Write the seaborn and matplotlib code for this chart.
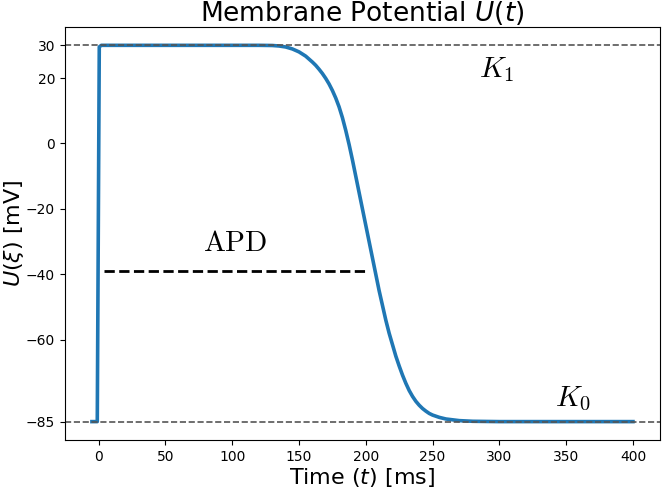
import matplotlib
matplotlib.use("Agg")
import matplotlib.pyplot as plt
import seaborn as sns
import pandas as pd

# Data
time_ms = [-5, -1, 0.5, 2, 20, 60, 100, 120, 130, 135, 140, 145, 150, 155, 160,
           162.5, 165, 167.5, 170, 172.5, 175, 177.5, 180, 182.5, 185, 187.5,
           190, 195, 200, 205, 210, 215, 217.5, 220, 222.5, 225, 227.5, 230,
           232.5, 235, 237.5, 240, 242.5, 245, 247.5, 250, 255, 260, 270, 280,
           300, 350, 400]
potential_mv = [-85, -85, 29.5, 30, 30, 30, 30, 30, 29.95, 29.8, 29.5, 28.9,
                28.0, 26.7, 24.9, 23.9, 22.7, 21.4, 19.9, 18.2, 16.2, 13.9, 11.2,
                7.9, 4.0, -0.3, -5.0, -15.0, -25.0, -35.0, -45.0, -54.0, -58.0,
                -61.5, -65.0, -68.0, -70.8, -73.3, -75.5, -77.3, -78.8, -80.0,
                -81.0, -81.8, -82.5, -83.0, -83.7, -84.2, -84.7, -84.9, -85,
                -85, -85]
K1 = 30
K0 = -85
apd_level = -39
apd_start, apd_end = 4, 202
yticks = [30, 20, 0, -20, -40, -60, -85]
xticks = [0, 50, 100, 150, 200, 250, 300, 350, 400]

df = pd.DataFrame({"t": time_ms, "U": potential_mv})

fig = plt.figure(figsize=(6.62, 4.91), dpi=100)
ax = fig.add_axes([0.098, 0.103, 0.899, 0.843])

sns.lineplot(data=df, x="t", y="U", ax=ax, color="#1f77b4", linewidth=2.6,
             sort=False)
ax.axhline(K1, color="#555555", linestyle="--", linewidth=1.2)
ax.axhline(K0, color="#555555", linestyle="--", linewidth=1.2)
ax.plot([apd_start, apd_end], [apd_level, apd_level], color="black",
        linestyle="--", linewidth=2)

ax.text(102, -30.5, r"$\mathrm{APD}$", fontsize=21, ha="center", va="center",
        math_fontfamily="cm")
ax.text(298, 22.5, r"$K_1$", fontsize=21, ha="center", va="center",
        math_fontfamily="cm")
ax.text(355, -78, r"$K_0$", fontsize=21, ha="center", va="center",
        math_fontfamily="cm")

ax.set_yticks(yticks)
ax.set_xticks(xticks)
ax.tick_params(labelsize=10)
ax.set_xlabel(r"Time $(t)$ [ms]", fontsize=16, labelpad=1)
ax.set_ylabel(r"$U(\xi)$ [mV]", fontsize=16, labelpad=0)
ax.set_title(r"Membrane Potential $U(t)$", fontsize=19, pad=4)

fig.savefig("out.png", dpi=100)
